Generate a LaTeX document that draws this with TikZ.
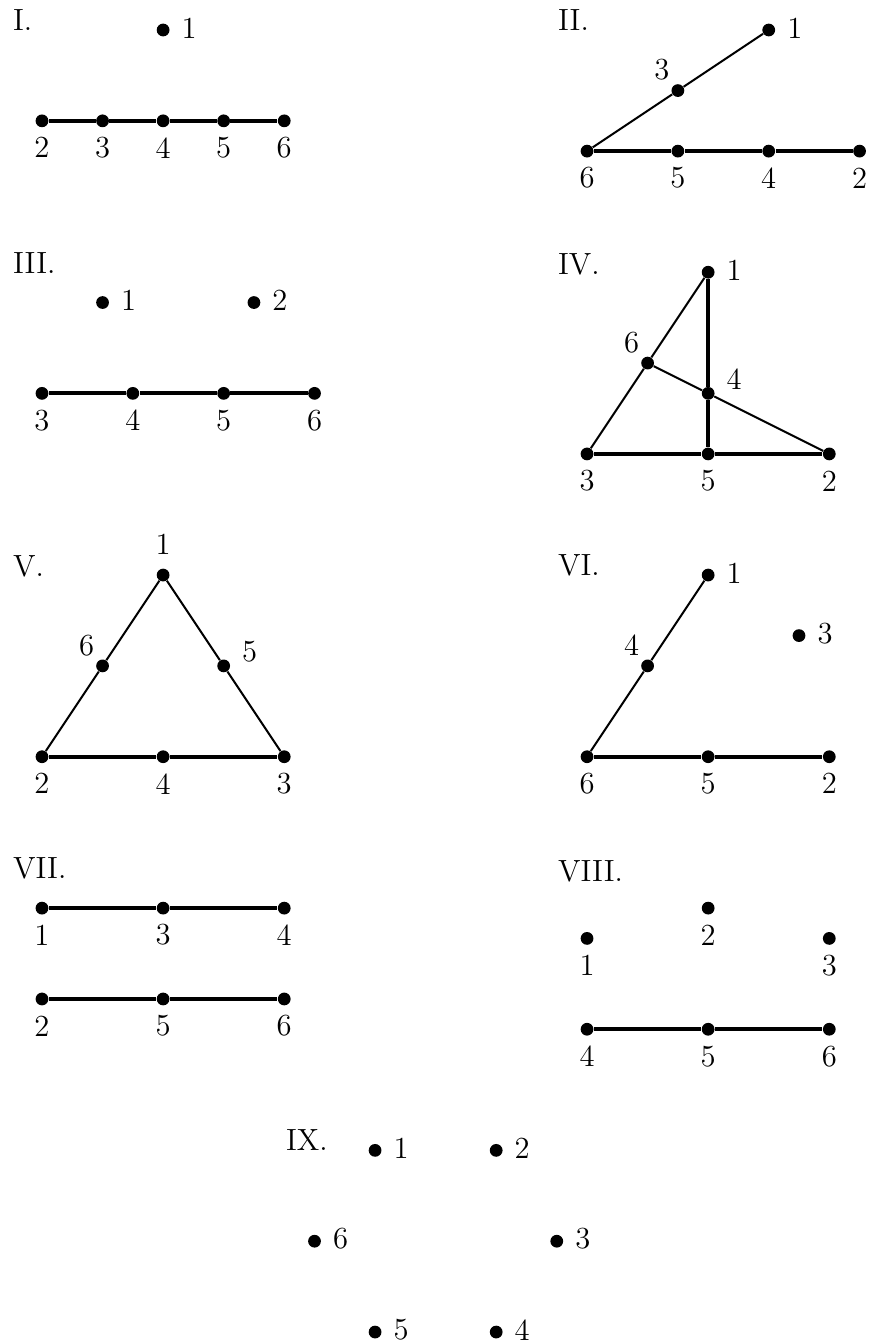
\documentclass[tikz,border=0pt]{standalone}
\usetikzlibrary{calc}
\tikzset{
  dot/.style={circle, fill=black, inner sep=0pt, minimum size=6pt},
  lbl/.style={inner sep=0pt, font=\fontsize{14.4}{17}\selectfont},
  ttl/.style={inner sep=0pt, anchor=west, font=\fontsize{14.4}{17}\selectfont},
  heavy/.style={line width=2pt},
  light/.style={line width=0.95pt}
}
\newcommand{\vtx}[4]{\node[dot] (#1) at (#2) {}; \node[lbl] (#1l) at ($(#1)+(#3)$) {#4};}
\begin{document}
\begin{tikzpicture}[x=0.5cm, y=-0.5cm]
\useasboundingbox (-1.387,-0.991) rectangle (27.411,43.395);
% ---------- I ----------
\node[ttl] (tI) at (-0.97,-0.33) {I.};
\vtx{Ia}{4,0}{0.86,-0.07}{1}
\vtx{Ib}{0,3}{0,0.89}{2}
\vtx{Ic}{2,3}{0,0.89}{3}
\vtx{Id}{4,3}{0,0.89}{4}
\vtx{Ie}{6,3}{0,0.89}{5}
\vtx{If}{8,3}{0,0.89}{6}
\draw[heavy] (Ib) -- (Ic) -- (Id) -- (Ie) -- (If);
% ---------- II ----------
\node[ttl] (tII) at (17.03,-0.33) {II.};
\vtx{IIa}{24,0}{0.86,-0.07}{1}
\vtx{IIc}{21,2}{-0.53,-0.68}{3}
\vtx{IIf}{18,4}{0,0.89}{6}
\vtx{IIe}{21,4}{0,0.89}{5}
\vtx{IId}{24,4}{0,0.89}{4}
\vtx{IIb}{27,4}{0,0.89}{2}
\draw[light] (IIf) -- (IIc) -- (IIa);
\draw[heavy] (IIf) -- (IIe) -- (IId) -- (IIb);
% ---------- III ----------
\node[ttl] (tIII) at (-0.97,7.7) {III.};
\vtx{IIIa}{2,9}{0.86,-0.07}{1}
\vtx{IIIb}{7,9}{0.86,-0.07}{2}
\vtx{IIIc}{0,12}{0,0.89}{3}
\vtx{IIId}{3,12}{0,0.89}{4}
\vtx{IIIe}{6,12}{0,0.89}{5}
\vtx{IIIf}{9,12}{0,0.89}{6}
\draw[heavy] (IIIc) -- (IIId) -- (IIIe) -- (IIIf);
% ---------- IV ----------
\node[ttl] (tIV) at (17.03,7.75) {IV.};
\vtx{IVa}{22,8}{0.86,-0.07}{1}
\vtx{IVf}{20,11}{-0.53,-0.68}{6}
\vtx{IVd}{22,12}{0.86,-0.46}{4}
\vtx{IVc}{18,14}{0,0.89}{3}
\vtx{IVe}{22,14}{0,0.89}{5}
\vtx{IVb}{26,14}{0,0.89}{2}
\draw[light] (IVa) -- (IVf) -- (IVc);
\draw[light] (IVf) -- (IVd) -- (IVb);
\draw[heavy] (IVa) -- (IVd) -- (IVe);
\draw[heavy] (IVc) -- (IVe) -- (IVb);
% ---------- V ----------
\node[ttl] (tV) at (-0.97,17.7) {V.};
\vtx{Va}{4,18}{0,-1}{1}
\vtx{Vf}{2,21}{-0.53,-0.68}{6}
\vtx{Ve}{6,21}{0.86,-0.46}{5}
\vtx{Vb}{0,24}{0,0.89}{2}
\vtx{Vd}{4,24}{0,0.89}{4}
\vtx{Vc}{8,24}{0,0.89}{3}
\draw[light] (Vb) -- (Vf) -- (Va) -- (Ve) -- (Vc);
\draw[heavy] (Vb) -- (Vd) -- (Vc);
% ---------- VI ----------
\node[ttl] (tVI) at (17.03,17.67) {VI.};
\vtx{VIa}{22,18}{0.86,-0.07}{1}
\vtx{VId}{20,21}{-0.53,-0.68}{4}
\vtx{VIc}{25,20}{0.86,-0.07}{3}
\vtx{VIf}{18,24}{0,0.89}{6}
\vtx{VIe}{22,24}{0,0.89}{5}
\vtx{VIb}{26,24}{0,0.89}{2}
\draw[light] (VIf) -- (VId) -- (VIa);
\draw[heavy] (VIf) -- (VIe) -- (VIb);
% ---------- VII ----------
\node[ttl] (tVII) at (-0.97,27.7) {VII.};
\vtx{VIIa}{0,29}{0,0.89}{1}
\vtx{VIIc}{4,29}{0,0.89}{3}
\vtx{VIId}{8,29}{0,0.89}{4}
\vtx{VIIb}{0,32}{0,0.89}{2}
\vtx{VIIe}{4,32}{0,0.89}{5}
\vtx{VIIf}{8,32}{0,0.89}{6}
\draw[heavy] (VIIa) -- (VIIc) -- (VIId);
\draw[heavy] (VIIb) -- (VIIe) -- (VIIf);
% ---------- VIII ----------
\node[ttl] (tVIII) at (17.03,27.8) {VIII.};
\vtx{VIIIb}{22,29}{0,0.89}{2}
\vtx{VIIIa}{18,30}{0,0.89}{1}
\vtx{VIIIc}{26,30}{0,0.89}{3}
\vtx{VIIId}{18,33}{0,0.89}{4}
\vtx{VIIIe}{22,33}{0,0.89}{5}
\vtx{VIIIf}{26,33}{0,0.89}{6}
\draw[heavy] (VIIId) -- (VIIIe) -- (VIIIf);
% ---------- IX ----------
\node[ttl] (tIX) at (8.05,36.66) {IX.};
\vtx{IXa}{11,37}{0.86,-0.07}{1}
\vtx{IXb}{15,37}{0.86,-0.07}{2}
\vtx{IXf}{9,40}{0.86,-0.07}{6}
\vtx{IXc}{17,40}{0.86,-0.07}{3}
\vtx{IXe}{11,43}{0.86,-0.07}{5}
\vtx{IXd}{15,43}{0.86,-0.07}{4}
\end{tikzpicture}
\end{document}
